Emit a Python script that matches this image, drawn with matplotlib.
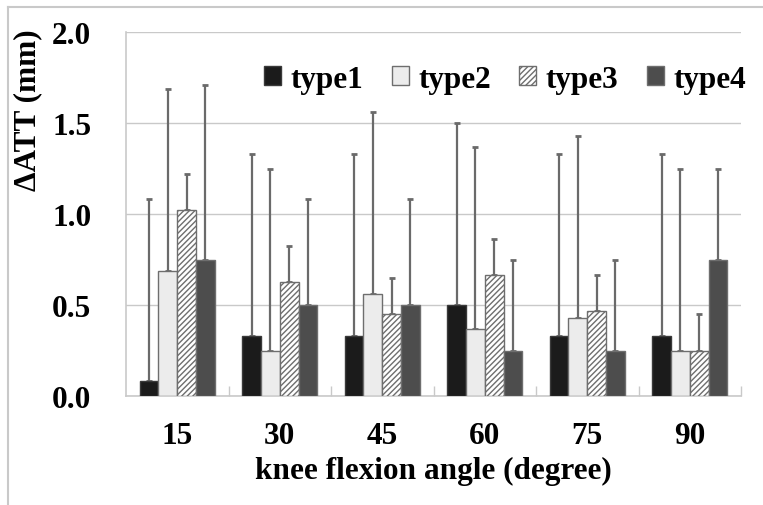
import matplotlib as mpl
mpl.use("Agg")
import matplotlib.pyplot as plt
import numpy as np
from matplotlib.lines import Line2D

mpl.rcParams.update({
    "font.family": "serif",
    "font.serif": ["Liberation Serif", "DejaVu Serif"],
    "font.weight": "bold",
    "hatch.linewidth": 1.0,
})

# data (mean and upper SD)
angles = ["15", "30", "45", "60", "75", "90"]
series = ["type1", "type2", "type3", "type4"]
type1_mean = [0.08, 0.33, 0.33, 0.50, 0.33, 0.33]
type1_sd = [1.00, 1.00, 1.00, 1.00, 1.00, 1.00]
type2_mean = [0.685, 0.25, 0.56, 0.37, 0.43, 0.25]
type2_sd = [1.00, 1.00, 1.00, 1.00, 1.00, 1.00]
type3_mean = [1.02, 0.625, 0.45, 0.665, 0.465, 0.25]
type3_sd = [0.20, 0.20, 0.20, 0.20, 0.20, 0.20]
type4_mean = [0.75, 0.50, 0.50, 0.25, 0.25, 0.75]
type4_sd = [0.96, 0.58, 0.58, 0.50, 0.50, 0.50]

means = [type1_mean, type2_mean, type3_mean, type4_mean]
sds = [type1_sd, type2_sd, type3_sd, type4_sd]
faces = ["#1b1b1b", "#ececec", "white", "#4d4d4d"]
hatches = [None, None, "//////", None]
EDGE = "#6e6e6e"
GRID = "#c9c9c9"
FS = 22.5

fig = plt.figure(figsize=(7.63, 5.06), dpi=100)
ax = fig.add_axes([126/763, 1-397/506, 615/763, 364/506])

x = np.arange(len(angles))
w = 0.183
handles = []
for i, (m, s) in enumerate(zip(means, sds)):
    pos = x + (i - 1.5) * w
    bars = ax.bar(pos, m, width=w, color=faces[i], edgecolor=EDGE if i != 0 else "#3a3a3a",
                  linewidth=1.0, hatch=hatches[i], label=series[i], zorder=3)
    ax.errorbar(pos, m, yerr=[np.zeros(len(m)), s], fmt="none", ecolor="#6a6a6a",
                elinewidth=1.6, capsize=2.5, capthick=2, zorder=2)
    handles.append(bars)

ax.set_xlim(-0.5, 5.5)
ax.set_ylim(0, 2.0)
ax.set_yticks([0, 0.5, 1.0, 1.5, 2.0])
ax.set_yticklabels(["0.0", "0.5", "1.0", "1.5", "2.0"])
ax.set_xticks(x)
ax.set_xticklabels(angles)
ax.set_xticks(np.arange(0.5, 6, 1), minor=True)
ax.tick_params(axis="x", which="major", length=0, pad=18, labelsize=FS)
ax.tick_params(axis="x", which="minor", direction="in", length=7, color=GRID, width=1)
ax.tick_params(axis="y", length=0, pad=25, labelsize=FS)
ax.grid(axis="y", color=GRID, lw=1.0, zorder=0)
ax.set_axisbelow(True)
for sp in ("top", "right"):
    ax.spines[sp].set_visible(False)
for sp in ("left", "bottom"):
    ax.spines[sp].set_color(GRID)
    ax.spines[sp].set_linewidth(1.2)

ax.set_xlabel("knee flexion angle (degree)", fontsize=FS, fontweight="bold", labelpad=4)
ax.set_ylabel("\u0394ATT (mm)", fontsize=FS, fontweight="bold", va="center")
ax.yaxis.set_label_coords(-0.159, 0.788)

ax.legend(handles=handles, ncol=4, loc="center right", bbox_to_anchor=(1.008, 0.87),
          frameon=False, fontsize=FS, handlelength=0.55, handleheight=0.55,
          handletextpad=0.3, columnspacing=0.9, borderpad=0, borderaxespad=0)

# outer frame (top and left edges)
fig.add_artist(Line2D([8/763, 1], [1-8/506, 1-8/506], transform=fig.transFigure, color=GRID, lw=1.5))
fig.add_artist(Line2D([8/763, 8/763], [0, 1-8/506], transform=fig.transFigure, color=GRID, lw=1.5))

fig.savefig("out.png", dpi=100)
